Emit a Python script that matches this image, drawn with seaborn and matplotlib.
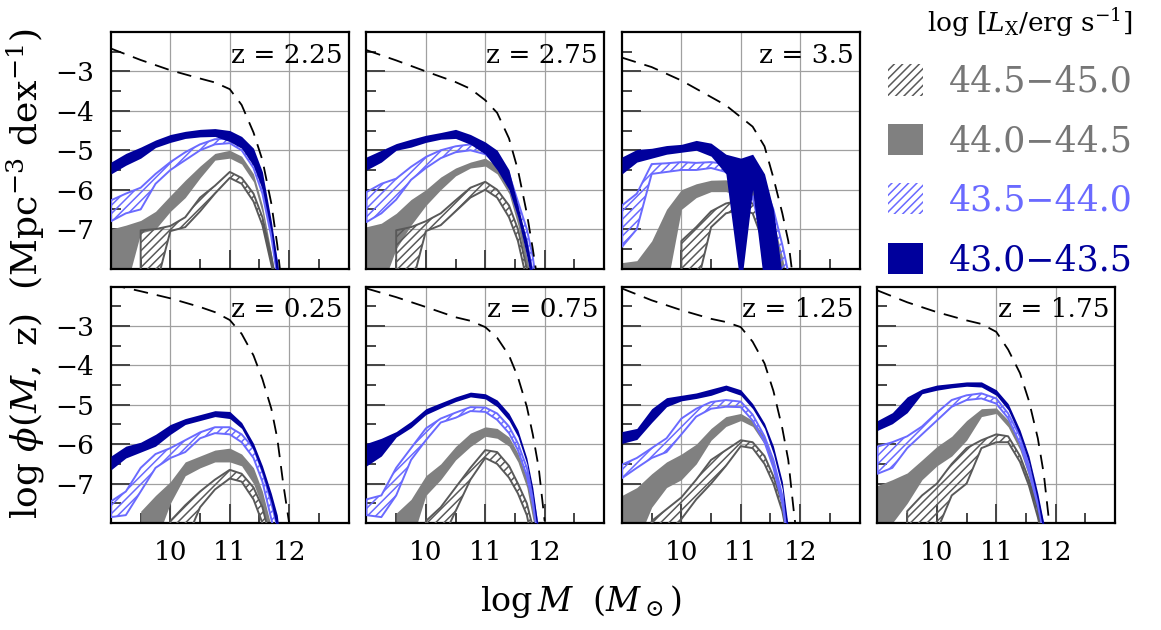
import numpy as np
import matplotlib
matplotlib.use("Agg")
import matplotlib.pyplot as plt
from matplotlib.patches import Patch
from matplotlib.ticker import FixedLocator
import seaborn as sns

nan = np.nan

log_m = [9.0, 9.25, 9.5, 9.75, 10.0, 10.25, 10.5, 10.75, 11.0, 11.2, 11.4, 11.55, 11.7, 11.8, 11.9]
# log M grid of the stellar mass function (dashed)
log_m_smf = [9.0, 9.5, 10.0, 10.5, 10.75, 11.0, 11.2, 11.4, 11.55, 11.7, 11.8, 11.9, 12.0]

# panel order: top row then bottom row
panel_z = ["2.25", "2.75", "3.5", None, "0.25", "0.75", "1.25", "1.75"]

# stellar mass function
smf = {
    "2.25": [-2.42, -2.71, -2.97, -3.18, -3.28, -3.45, -3.85, -4.55, -5.25, -6.35, -7.4, -8.8, -10.0],
    "2.75": [-2.46, -2.72, -3.0, -3.27, -3.44, -3.73, -4.05, -4.7, -5.5, -6.6, -7.5, -8.5, -10.0],
    "3.5":  [-2.65, -2.89, -3.23, -3.65, -3.86, -4.16, -4.4, -4.9, -5.7, -6.6, -7.3, -8.5, -10.0],
    "0.25": [-1.95, -2.12, -2.3, -2.52, -2.65, -2.85, -3.2, -3.75, -4.35, -5.1, -5.85, -7.0, -8.0],
    "0.75": [-2.05, -2.27, -2.52, -2.78, -2.87, -3.03, -3.3, -3.75, -4.3, -5.05, -5.75, -6.6, -7.95],
    "1.25": [-2.05, -2.35, -2.6, -2.82, -2.9, -3.03, -3.4, -3.95, -4.65, -5.6, -6.4, -7.8, -9.0],
    "1.75": [-2.1, -2.4, -2.65, -2.86, -2.95, -3.15, -3.6, -4.2, -4.9, -5.85, -6.75, -8.1, -9.0],
}

# 43.0-43.5 (navy, solid)
navy_hi = {
    "2.25": [-5.3, -5.08, -4.92, -4.74, -4.6, -4.52, -4.47, -4.45, -4.5, -4.65, -4.95, -5.55, -6.8, -7.8, -9.0],
    "2.75": [-5.17, -5.0, -4.83, -4.72, -4.62, -4.55, -4.47, -4.6, -4.79, -5.0, -5.5, -6.4, -7.3, -8.1, nan],
    "3.5":  [-5.17, -4.98, -4.95, -4.88, -4.85, -4.75, -4.82, -5.1, -5.2, -5.1, -5.6, -6.5, -8.2, nan, nan],
    "0.25": [-6.3, -6.05, -5.95, -5.75, -5.5, -5.35, -5.25, -5.15, -5.17, -5.45, -5.98, -6.55, -7.25, -7.8, -9.0],
    "0.75": [-5.98, -5.85, -5.68, -5.42, -5.1, -4.95, -4.8, -4.68, -4.72, -4.88, -5.22, -5.64, -6.35, -7.1, -8.2],
    "1.25": [-5.68, -5.6, -5.1, -4.82, -4.76, -4.7, -4.6, -4.5, -4.62, -4.97, -5.47, -6.05, -6.95, -8.1, nan],
    "1.75": [-5.4, -5.2, -4.8, -4.6, -4.5, -4.46, -4.42, -4.42, -4.62, -4.97, -5.64, -6.3, -7.25, -8.0, nan],
}
navy_lo = {
    "2.25": [-5.6, -5.38, -5.2, -4.93, -4.8, -4.7, -4.66, -4.65, -4.78, -4.95, -5.4, -6.0, -7.1, -8.3, -9.0],
    "2.75": [-5.5, -5.3, -5.0, -4.92, -4.8, -4.72, -4.7, -4.85, -5.1, -5.5, -6.0, -6.7, -7.7, -8.5, nan],
    "3.5":  [-5.6, -5.3, -5.2, -5.1, -5.05, -5.0, -5.15, -5.6, -8.5, -6.0, -8.5, -8.5, -8.5, nan, nan],
    "0.25": [-6.65, -6.35, -6.2, -6.05, -5.75, -5.5, -5.4, -5.3, -5.35, -5.6, -6.15, -6.75, -7.5, -8.2, -9.0],
    "0.75": [-6.55, -6.3, -5.82, -5.58, -5.25, -5.08, -4.92, -4.8, -4.85, -5.05, -5.4, -5.81, -6.5, -7.3, -8.5],
    "1.25": [-5.98, -5.88, -5.45, -5.05, -4.9, -4.84, -4.76, -4.63, -4.76, -5.1, -5.6, -6.25, -7.15, -8.5, nan],
    "1.75": [-5.65, -5.48, -5.2, -4.72, -4.63, -4.57, -4.53, -4.55, -4.76, -5.13, -5.8, -6.48, -7.45, -8.3, nan],
}

# 43.5-44.0 (light blue, hatched)
blue_hi = {
    "2.25": [-6.27, -6.1, -5.95, -5.6, -5.3, -5.05, -4.85, -4.72, -4.7, -4.85, -5.3, -5.9, -7.0, -7.9, -9.0],
    "2.75": [-6.06, -5.85, -5.72, -5.42, -5.17, -5.0, -4.9, -4.85, -4.9, -5.1, -5.6, -6.3, -7.0, -7.7, -8.8],
    "3.5":  [-6.4, -6.1, -5.35, -5.33, -5.3, -5.32, -5.3, -5.35, -5.4, -5.55, -5.9, -6.5, -7.4, -8.1, nan],
    "0.25": [-7.45, -7.2, -6.6, -6.25, -6.1, -5.9, -5.7, -5.57, -5.57, -5.75, -6.1, -6.7, -7.5, -8.1, nan],
    "0.75": [-7.4, -7.3, -6.6, -6.1, -5.6, -5.35, -5.2, -5.06, -5.07, -5.22, -5.55, -5.98, -6.6, -7.3, -8.2],
    "1.25": [-6.52, -6.35, -6.1, -5.85, -5.35, -5.1, -4.93, -4.88, -4.92, -5.25, -5.8, -6.4, -7.3, -8.2, nan],
    "1.75": [-6.06, -5.95, -5.8, -5.55, -5.2, -4.88, -4.76, -4.71, -4.84, -5.22, -5.81, -6.55, -7.4, -8.1, nan],
}
blue_lo = {
    "2.25": [-6.8, -6.6, -6.5, -5.85, -5.5, -5.25, -5.0, -4.85, -4.82, -5.0, -5.45, -6.1, -7.2, -8.2, -9.0],
    "2.75": [-6.82, -6.6, -6.25, -5.75, -5.45, -5.2, -5.05, -5.0, -5.1, -5.35, -5.9, -6.6, -7.3, -8.1, -9.0],
    "3.5":  [-7.45, -7.0, -5.6, -5.55, -5.5, -5.5, -5.45, -5.55, -5.8, -6.2, -7.5, -8.5, -8.5, -8.5, nan],
    "0.25": [-7.85, -7.8, -7.2, -6.6, -6.35, -6.2, -5.85, -5.72, -5.75, -5.95, -6.35, -6.95, -7.9, -8.5, nan],
    "0.75": [-7.8, -7.85, -7.3, -6.4, -5.9, -5.45, -5.33, -5.16, -5.18, -5.38, -5.72, -6.15, -6.8, -7.5, -8.5],
    "1.25": [-6.86, -6.6, -6.35, -6.2, -5.75, -5.3, -5.1, -5.05, -5.06, -5.4, -5.95, -6.6, -7.5, -8.5, nan],
    "1.75": [-6.75, -6.6, -6.1, -5.75, -5.4, -5.05, -4.88, -4.84, -4.97, -5.34, -5.98, -6.7, -7.55, -8.3, nan],
}

# 44.0-44.5 (grey, solid)
grey_hi = {
    "2.25": [-7.0, -6.9, -6.78, -6.55, -6.15, -5.76, -5.4, -5.08, -5.0, -5.15, -5.6, -6.4, -7.6, -8.5, nan],
    "2.75": [-6.94, -6.85, -6.6, -6.25, -6.0, -5.68, -5.45, -5.3, -5.2, -5.4, -5.9, -6.6, -7.7, -8.5, nan],
    "3.5":  [-7.85, -7.8, -7.3, -6.5, -6.0, -5.85, -5.76, -5.75, -5.9, -5.95, -6.2, -6.8, -7.7, -8.5, nan],
    "0.25": [nan, nan, -7.7, -7.3, -6.95, -6.45, -6.3, -6.15, -6.1, -6.25, -6.6, -7.2, -8.1, nan, nan],
    "0.75": [nan, nan, -7.75, -7.4, -6.8, -6.5, -6.06, -5.72, -5.56, -5.6, -5.82, -6.23, -6.85, -7.6, -8.5],
    "1.25": [-7.3, -7.1, -6.75, -6.45, -6.25, -6.0, -5.6, -5.3, -5.22, -5.4, -5.8, -6.4, -7.4, -8.3, nan],
    "1.75": [-7.05, -6.9, -6.73, -6.4, -6.06, -5.8, -5.4, -5.1, -5.08, -5.39, -5.98, -6.65, -7.6, -8.3, nan],
}
grey_lo = {
    "2.25": [-8.5, -8.5, -7.1, -7.0, -6.55, -6.2, -5.7, -5.25, -5.2, -5.35, -5.8, -6.6, -7.8, -8.5, nan],
    "2.75": [-8.5, -8.5, -7.5, -6.9, -6.4, -6.0, -5.65, -5.45, -5.4, -5.6, -6.1, -6.9, -8.0, -8.5, nan],
    "3.5":  [-8.5, -8.5, -8.5, -8.5, -6.5, -6.2, -6.05, -6.05, -6.15, -6.25, -6.6, -7.3, -8.5, -8.5, nan],
    "0.25": [nan, nan, -8.5, -8.5, -7.5, -6.8, -6.6, -6.45, -6.45, -6.55, -7.0, -7.6, -8.5, nan, nan],
    "0.75": [nan, nan, -8.5, -8.5, -7.3, -6.9, -6.4, -6.06, -5.8, -5.85, -6.05, -6.45, -7.1, -7.9, -8.5],
    "1.25": [-8.5, -8.5, -7.6, -7.1, -6.9, -6.5, -5.9, -5.55, -5.4, -5.55, -6.0, -6.6, -7.6, -8.5, nan],
    "1.75": [-8.5, -8.0, -7.5, -6.9, -6.55, -6.3, -5.9, -5.3, -5.22, -5.56, -6.15, -6.82, -7.8, -8.5, nan],
}

# 44.5-45.0 (dark grey, hatched)
dgrey_hi = {
    "2.25": [nan, nan, -7.03, -7.0, -6.92, -6.7, -6.2, -5.9, -5.55, -5.7, -6.1, -6.7, -7.7, -8.5, nan],
    "2.75": [nan, nan, -7.03, -6.95, -6.8, -6.6, -6.27, -5.95, -5.8, -6.0, -6.4, -7.0, -8.0, -8.5, nan],
    "3.5":  [nan, nan, nan, nan, -7.3, -6.95, -6.55, -6.35, -6.27, -6.35, -6.7, -7.4, -8.5, nan, nan],
    "0.25": [nan, nan, nan, nan, -7.95, -7.55, -7.2, -6.9, -6.65, -6.75, -7.1, -7.6, -8.5, nan, nan],
    "0.75": [nan, nan, nan, nan, -7.95, -7.6, -7.1, -6.6, -6.15, -6.2, -6.55, -7.0, -7.5, -8.1, nan],
    "1.25": [nan, nan, -7.95, -7.65, -7.35, -6.9, -6.4, -6.15, -5.9, -5.95, -6.3, -6.82, -7.5, -8.3, nan],
    "1.75": [nan, nan, -7.7, -7.3, -7.0, -6.5, -6.1, -5.9, -5.75, -5.8, -6.3, -6.9, -7.65, -8.3, nan],
}
dgrey_lo = {
    "2.25": [nan, nan, -8.5, -8.5, -7.05, -6.95, -6.55, -6.1, -5.7, -5.85, -6.3, -6.9, -7.9, -8.5, nan],
    "2.75": [nan, nan, -8.5, -8.5, -7.05, -6.9, -6.55, -6.2, -6.0, -6.2, -6.7, -7.3, -8.3, -8.5, nan],
    "3.5":  [nan, nan, nan, nan, -8.5, -8.5, -6.95, -6.6, -6.5, -6.6, -7.4, -8.5, -8.5, nan, nan],
    "0.25": [nan, nan, nan, nan, -8.5, -8.5, -7.6, -7.15, -6.87, -6.95, -7.4, -8.0, -8.5, nan, nan],
    "0.75": [nan, nan, nan, nan, -8.5, -8.5, -7.7, -6.9, -6.35, -6.5, -6.85, -7.25, -7.8, -8.5, nan],
    "1.25": [nan, nan, -8.5, -8.5, -7.9, -7.4, -7.0, -6.55, -6.05, -6.1, -6.5, -7.0, -7.7, -8.5, nan],
    "1.75": [nan, nan, -8.5, -8.5, -8.2, -7.3, -7.0, -6.1, -5.95, -5.95, -6.45, -7.05, -7.85, -8.5, nan],
}

lx_bins = ["44.5\u221245.0", "44.0\u221244.5", "43.5\u221244.0", "43.0\u221243.5"]

NAVY = "#00009c"
LBLUE = "#6a6aff"
GREY = "#808080"
DGREY = "#595959"

sns.set_theme(style="white")
plt.rcParams["font.family"] = ["DejaVu Serif"]
plt.rcParams["mathtext.fontset"] = "dejavuserif"
plt.rcParams["hatch.linewidth"] = 1.1
plt.rcParams["axes.unicode_minus"] = True
plt.rcParams["text.color"] = "black"
plt.rcParams["xtick.color"] = "black"
plt.rcParams["ytick.color"] = "black"

fig, axes = plt.subplots(2, 4, figsize=(11.61, 6.30), dpi=100)
fig.subplots_adjust(left=0.0956, right=0.9604, top=0.9492, bottom=0.1698,
                    wspace=0.0756, hspace=0.076)

x = np.array(log_m)
for i, (ax, z) in enumerate(zip(axes.flat, panel_z)):
    if z is None:
        ax.axis("off")
        continue
    row, col = divmod(i, 4)

    ax.fill_between(x, grey_lo[z], grey_hi[z], color=GREY, lw=0, zorder=2)
    ax.fill_between(x, dgrey_lo[z], dgrey_hi[z], facecolor="none", edgecolor=DGREY,
                    hatch="////", lw=1.4, zorder=3)
    ax.fill_between(x, blue_lo[z], blue_hi[z], facecolor="none", edgecolor=LBLUE,
                    hatch="////", lw=1.4, zorder=4)
    ax.fill_between(x, navy_lo[z], navy_hi[z], color=NAVY, lw=0, zorder=5)
    sns.lineplot(x=log_m_smf, y=smf[z], ax=ax, color="black", lw=1.3,
                 linestyle=(0, (8, 5)), zorder=6)

    ax.set_xlim(9, 13)
    ax.set_ylim(-8, -2)
    ax.xaxis.set_major_locator(FixedLocator([10, 11, 12]))
    ax.xaxis.set_minor_locator(FixedLocator([9.5, 10.5, 11.5, 12.5]))
    ax.yaxis.set_major_locator(FixedLocator([-3, -4, -5, -6, -7]))
    ax.yaxis.set_minor_locator(FixedLocator([-2.5, -3.5, -4.5, -5.5, -6.5, -7.5]))
    ax.grid(True, which="major", color="#a0a0a0", lw=0.9, zorder=1)
    ax.set_axisbelow(True)
    ax.tick_params(which="both", direction="in", color="#444444", width=1.4,
                   left=True, bottom=True, top=False, right=False,
                   labelsize=19, labelcolor="black")
    ax.tick_params(which="major", length=14)
    ax.tick_params(which="minor", length=7)
    ax.tick_params(axis="y", pad=12)
    ax.tick_params(axis="x", pad=12)
    for sp in ax.spines.values():
        sp.set_color("black")
        sp.set_linewidth(1.6)
    if col != 0:
        ax.tick_params(labelleft=False)
    if row == 0:
        ax.tick_params(labelbottom=False)
    ax.set_xlabel("")
    ax.set_ylabel("")
    ax.text(0.975, 0.955, f"z = {z}", transform=ax.transAxes, ha="right",
            va="top", fontsize=19, color="black", zorder=7)

handles = [
    Patch(facecolor="none", edgecolor=DGREY, hatch="////", lw=0),
    Patch(facecolor=GREY, edgecolor="none"),
    Patch(facecolor="none", edgecolor=LBLUE, hatch="////", lw=0),
    Patch(facecolor=NAVY, edgecolor="none"),
]
leg = fig.legend(handles, lx_bins, loc="upper left", bbox_to_anchor=(0.75, 1.017),
                 frameon=False, fontsize=25, handlelength=1.0, handleheight=1.0,
                 handletextpad=0.75, labelspacing=0.72, borderpad=0.0,
                 title=r"log [$L_{\rm X}$/erg s$^{-1}$]", title_fontsize=19,
                 alignment="right")
for t, c in zip(leg.get_texts(), ["#777777", "#777777", LBLUE, NAVY]):
    t.set_color(c)

fig.text(0.022, 0.565, r"$\log\,\phi(M,\ \mathrm{z})$  (Mpc$^{-3}$ dex$^{-1}$)",
         rotation=90, ha="center", va="center", fontsize=26, color="black")
fig.text(0.5, 0.045, r"$\log M$  $(M_\odot)$", ha="center", va="center",
         fontsize=24, color="black")

fig.savefig("out.png", dpi=100)
